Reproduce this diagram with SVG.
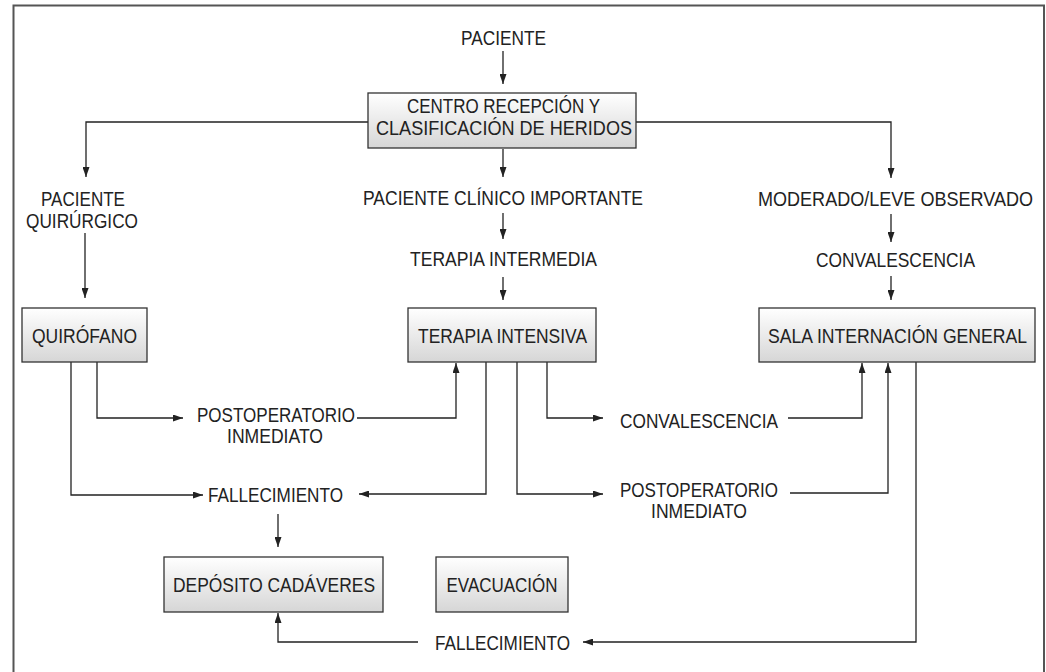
<svg xmlns="http://www.w3.org/2000/svg" width="1046" height="672" viewBox="0 0 1046 672">
<defs>
<linearGradient id="g" x1="0" y1="0" x2="0" y2="1">
<stop offset="0" stop-color="#ffffff"/>
<stop offset="1" stop-color="#d6d6d6"/>
</linearGradient>
<marker id="a" markerUnits="userSpaceOnUse" markerWidth="10" markerHeight="7" refX="10" refY="3.5" orient="auto">
<path d="M0,0 L10,3.5 L0,7 z" fill="#222"/>
</marker>
<style>
.t{font-family:"Liberation Sans",Arial,sans-serif;font-size:21px;fill:#222;text-anchor:middle}
.b{fill:url(#g);stroke:#333;stroke-width:1.3}
.c path{fill:none;stroke:#222;stroke-width:1.3;marker-end:url(#a)}
</style>
</defs>
<rect x="0" y="0" width="1046" height="672" fill="#fff"/>
<rect x="13.5" y="5.5" width="1030.5" height="680" fill="none" stroke="#555" stroke-width="2"/>
<g class="c" id="connectors">
<path d="M503,51 V84"/>
<path d="M368,122 H86 V177"/>
<path d="M503,149 V177"/>
<path d="M636,122 H891 V178"/>
<path d="M85,233 V298"/>
<path d="M503,213 V239"/>
<path d="M503,277 V300"/>
<path d="M891,214 V242"/>
<path d="M891,276 V300"/>
<path d="M97,362 V418 H183"/>
<path d="M71,362 V495 H203"/>
<path d="M357,418 H456 V363"/>
<path d="M486,362 V494 H359"/>
<path d="M517,362 V494 H603"/>
<path d="M547,362 V418 H603"/>
<path d="M788,418 H862 V363"/>
<path d="M790,493 H888 V363"/>
<path d="M916,362 V642 H583"/>
<path d="M278,514 V547"/>
<path d="M418,642 H278 V613"/>
</g>
<g id="paciente"><text class="t" x="503.5" y="45" textLength="85" lengthAdjust="spacingAndGlyphs">PACIENTE</text></g>
<g id="centro"><rect class="b" x="368" y="93" width="268" height="55"/>
<text class="t" x="503.5" y="113" textLength="193" lengthAdjust="spacingAndGlyphs">CENTRO RECEPCIÓN Y</text>
<text class="t" x="504" y="135" textLength="256" lengthAdjust="spacingAndGlyphs">CLASIFICACIÓN DE HERIDOS</text></g>
<g id="quirurgico"><text class="t" x="83" y="206" textLength="84" lengthAdjust="spacingAndGlyphs">PACIENTE</text><text class="t" x="82" y="228" textLength="112" lengthAdjust="spacingAndGlyphs">QUIRÚRGICO</text></g>
<g id="clinico"><text class="t" x="503" y="205" textLength="280" lengthAdjust="spacingAndGlyphs">PACIENTE CLÍNICO IMPORTANTE</text></g>
<g id="intermedia"><text class="t" x="503.5" y="266" textLength="187" lengthAdjust="spacingAndGlyphs">TERAPIA INTERMEDIA</text></g>
<g id="moderado"><text class="t" x="895.5" y="206" textLength="275" lengthAdjust="spacingAndGlyphs">MODERADO/LEVE OBSERVADO</text></g>
<g id="convalescencia1"><text class="t" x="895.5" y="267" textLength="159" lengthAdjust="spacingAndGlyphs">CONVALESCENCIA</text></g>
<g id="quirofano"><rect class="b" x="22" y="308" width="125" height="54"/><text class="t" x="84.5" y="343" textLength="105" lengthAdjust="spacingAndGlyphs">QUIRÓFANO</text></g>
<g id="intensiva"><rect class="b" x="408" y="308" width="188" height="54"/><text class="t" x="502.5" y="343" textLength="169" lengthAdjust="spacingAndGlyphs">TERAPIA INTENSIVA</text></g>
<g id="sala"><rect class="b" x="759" y="308" width="276" height="54"/><text class="t" x="897.5" y="343" textLength="259" lengthAdjust="spacingAndGlyphs">SALA INTERNACIÓN GENERAL</text></g>
<g id="postop1"><text class="t" x="276" y="422" textLength="158" lengthAdjust="spacingAndGlyphs">POSTOPERATORIO</text><text class="t" x="275" y="443" textLength="96" lengthAdjust="spacingAndGlyphs">INMEDIATO</text></g>
<g id="convalescencia2"><text class="t" x="699" y="428" textLength="158" lengthAdjust="spacingAndGlyphs">CONVALESCENCIA</text></g>
<g id="fallecimiento1"><text class="t" x="275.5" y="502" textLength="135" lengthAdjust="spacingAndGlyphs">FALLECIMIENTO</text></g>
<g id="postop2"><text class="t" x="699" y="497" textLength="158" lengthAdjust="spacingAndGlyphs">POSTOPERATORIO</text><text class="t" x="699" y="518" textLength="96" lengthAdjust="spacingAndGlyphs">INMEDIATO</text></g>
<g id="deposito"><rect class="b" x="164" y="557" width="219" height="55"/><text class="t" x="274" y="592" textLength="202" lengthAdjust="spacingAndGlyphs">DEPÓSITO CADÁVERES</text></g>
<g id="evacuacion"><rect class="b" x="436" y="557" width="132" height="55"/><text class="t" x="502" y="592" textLength="111" lengthAdjust="spacingAndGlyphs">EVACUACIÓN</text></g>
<g id="fallecimiento2"><text class="t" x="502.5" y="650" textLength="135" lengthAdjust="spacingAndGlyphs">FALLECIMIENTO</text></g>
</svg>
